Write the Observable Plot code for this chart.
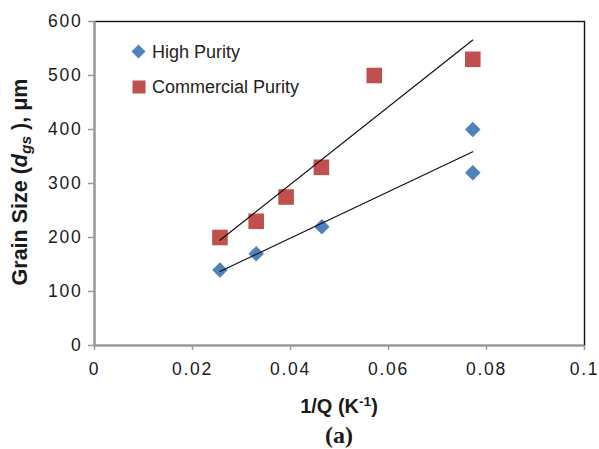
<!DOCTYPE html>
<html>
<head>
<meta charset="utf-8">
<script src="https://cdn.jsdelivr.net/npm/d3@7"></script>
<script src="https://cdn.jsdelivr.net/npm/@observablehq/plot@0.6"></script>
<style>
  html, body { margin: 0; padding: 0; background: #fff; }
  #wrap { position: relative; width: 599px; height: 449px; overflow: hidden; font-family: "Liberation Sans", Arial, sans-serif; color: #1a1a1a; }
  #wrap svg.plot { display: block; }
  g[aria-label="x-axis tick label"] text, g[aria-label="y-axis tick label"] text { letter-spacing: 1.8px; }
  .abs { position: absolute; white-space: nowrap; }
  #ylabel { font-weight: bold; font-size: 21.5px; line-height: 21.5px; left: 21px; top: 182px; transform: translate(-50%, -50%) rotate(-90deg); }
  #ylabel sub { font-size: 0.72em; vertical-align: -0.25em; line-height: 0; }
  #xlabel { font-weight: bold; font-size: 20px; line-height: 20px; left: 339px; top: 396px; transform: translateX(-50%); }
  #xlabel sup { font-size: 0.68em; vertical-align: 0.5em; line-height: 0; }
  #caption { font-family: "Liberation Serif", "Times New Roman", serif; font-weight: bold; font-size: 24px; line-height: 24px; left: 339px; top: 423px; transform: translateX(-50%); }
  .leg { font-size: 18px; line-height: 18px; left: 152px; color: #222; }
  .sym { position: absolute; }
</style>
</head>
<body>
<div id="wrap">
  <div id="chart"></div>
  <div id="ylabel" class="abs">Grain Size (<i>d</i><sub><i>gs</i></sub> ), μm</div>
  <div id="xlabel" class="abs">1/Q (K<sup>-1</sup>)</div>
  <div id="caption" class="abs">(a)</div>
  <svg class="sym" style="left:131px;top:44px" width="15" height="15"><path d="M7.5,0.5L14.5,7.5L7.5,14.5L0.5,7.5Z" fill="#4F81BD"/></svg>
  <div class="abs leg" id="leg1" style="top:43px">High Purity</div>
  <svg class="sym" style="left:131.5px;top:80px" width="14" height="14"><rect x="0.5" y="0.5" width="13" height="13" fill="#C0504D"/></svg>
  <div class="abs leg" id="leg2" style="top:78px">Commercial Purity</div>
</div>
<script>
// High purity (blue diamonds)
const hpX = [0.0256, 0.0330, 0.0464, 0.0772, 0.0772];
const hpY = [140, 170, 220, 400, 320];
// Commercial purity (red squares)
const cpX = [0.0256, 0.0330, 0.0391, 0.0463, 0.0571, 0.0772];
const cpY = [200, 230, 275, 330, 500, 530];
// ticks
const xTicks = [0, 0.02, 0.04, 0.06, 0.08, 0.1];
const xTickLabels = ["0", "0.02", "0.04", "0.06", "0.08", "0.1"];
const yTicks = [0, 100, 200, 300, 400, 500, 600];

const hp = hpX.map((x, i) => ({x, y: hpY[i]}));
const cp = cpX.map((x, i) => ({x, y: cpY[i]}));

const blue = "#4F81BD", red = "#C0504D", grey = "#9a9a9a";

const chart = Plot.plot({
  width: 599,
  height: 385,
  marginLeft: 94,
  marginRight: 15,
  marginTop: 21,
  marginBottom: 40,
  style: {fontFamily: "Liberation Sans, Arial, sans-serif", fontSize: "17.5px", color: "#1a1a1a", background: "#fff"},
  x: {domain: [0, 0.1]},
  y: {domain: [0, 600]},
  marks: [
    Plot.frame({stroke: "#111", strokeWidth: 1.4}),
    Plot.ruleX([0], {stroke: grey, strokeWidth: 2.2}),
    Plot.ruleY([0], {stroke: grey, strokeWidth: 2.2}),
    Plot.axisX({ticks: xTicks, tickFormat: (d, i) => xTickLabels[i], tickSize: 5, tickPadding: 12, stroke: grey, strokeWidth: 1.5, label: null}),
    Plot.axisY({ticks: yTicks, tickSize: 6, tickPadding: 6, stroke: grey, strokeWidth: 1.5, label: null}),
    Plot.dot(hp, {x: "x", y: "y", symbol: "diamond2", fill: blue, stroke: "none", r: 7}),
    Plot.dot(cp, {x: "x", y: "y", symbol: "square", fill: red, stroke: "none", r: 8.8}),
    Plot.linearRegressionY(hp, {x: "x", y: "y", ci: 0, stroke: "#111", strokeWidth: 1.2}),
    Plot.linearRegressionY(cp, {x: "x", y: "y", ci: 0, stroke: "#111", strokeWidth: 1.2})
  ]
});
chart.classList.add("plot");
document.getElementById("chart").appendChild(chart);
</script>
</body>
</html>
